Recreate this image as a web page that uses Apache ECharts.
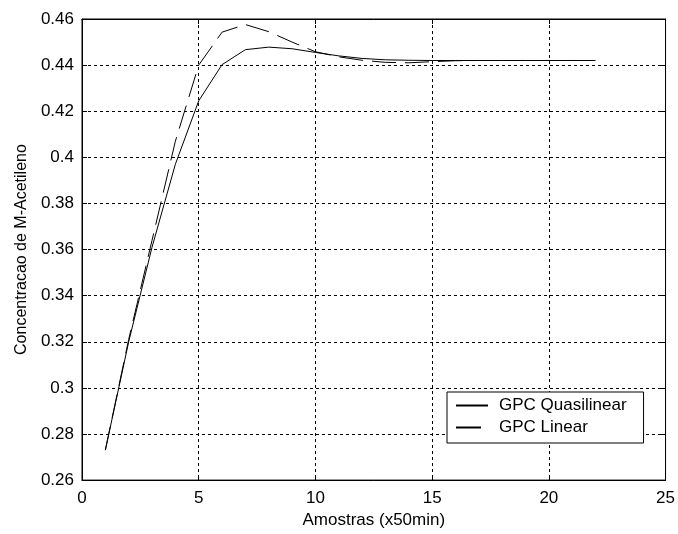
<!DOCTYPE html>
<html>
<head>
<meta charset="utf-8">
<script src="https://cdn.jsdelivr.net/npm/echarts@6/dist/echarts.min.js"></script>
<style>
html,body{margin:0;padding:0;background:#fff;}
#chart{width:678px;height:534px;}
</style>
</head>
<body>
<div id="chart"></div>
<script>
// Data
const samples = [1,2,3,4,5,6,7,8,9,10,11,12,13,14,15,16,17,18,19,20,21,22];
const gpcQuasilinear = [0.273,0.320,0.361,0.397,0.4245,0.4402,0.4467,0.4478,0.4471,0.4455,0.4440,0.4429,0.4423,0.4421,0.4420,0.4420,0.4420,0.4420,0.4420,0.4420,0.4420,0.4420];
const gpcLinear      = [0.273,0.321,0.364,0.407,0.4400,0.4543,0.4576,0.4545,0.4500,0.4458,0.4436,0.4421,0.4412,0.4410,0.4415,0.4419,0.4420,0.4420,0.4420,0.4420,0.4420,0.4420];
const xTicks = [0,5,10,15,20,25];
const yTicks = [0.26,0.28,0.30,0.32,0.34,0.36,0.38,0.40,0.42,0.44,0.46];
const seriesNames = ['GPC Quasilinear','GPC Linear'];
const xTitle = 'Amostras (x50min)';
const yTitle = 'Concentracao de M-Acetileno';

const FONT = '"Liberation Sans", Arial, sans-serif';
const chart = echarts.init(document.getElementById('chart'), null, {renderer:'canvas'});

const gridLine = {show:true, lineStyle:{color:'#000', width:1, type:[3,3]}};
const baseX = {
  type:'value', min:xTicks[0], max:xTicks[xTicks.length-1], interval:xTicks[1]-xTicks[0]
};
const baseY = {
  type:'value', min:yTicks[0], max:yTicks[yTicks.length-1], interval:0.02
};

chart.setOption({
  animation:false,
  backgroundColor:'#fff',
  textStyle:{fontFamily:FONT},
  grid:{left:82, top:19, width:586, height:464, show:true, borderColor:'#000', borderWidth:1, backgroundColor:'transparent'},
  legend:{
    orient:'vertical', left:447, top:392,
    padding:[5,17,7,8], itemGap:5,
    itemWidth:32, itemHeight:17,
    backgroundColor:'#fff', borderColor:'#000', borderWidth:1, borderRadius:0,
    itemStyle:{opacity:0},
    textStyle:{fontFamily:FONT, fontSize:17, color:'#000', lineHeight:17, padding:[0,0,0,6]},
    data:[
      {name:seriesNames[0]},
      {name:seriesNames[1], lineStyle:{type:[25,100]}}
    ]
  },
  xAxis:[
    Object.assign({}, baseX, {
      position:'bottom',
      name:xTitle, nameLocation:'middle', nameGap:27,
      nameTextStyle:{fontFamily:FONT, fontSize:17, color:'#000'},
      axisLine:{show:true, onZero:false, lineStyle:{color:'#000', width:1}},
      axisTick:{show:true, inside:true, length:5, lineStyle:{color:'#000'}},
      axisLabel:{show:true, margin:10, fontFamily:FONT, fontSize:17, color:'#000',
        formatter:v=>String(v)},
      splitLine:gridLine
    }),
    Object.assign({}, baseX, {
      position:'top',
      axisLine:{show:true, onZero:false, lineStyle:{color:'#000', width:1}},
      axisTick:{show:true, inside:true, length:5, lineStyle:{color:'#000'}},
      axisLabel:{show:false}, splitLine:{show:false}
    })
  ],
  yAxis:[
    Object.assign({}, baseY, {
      position:'left',
      name:yTitle, nameLocation:'middle', nameGap:50, nameRotate:90,
      nameTextStyle:{fontFamily:FONT, fontSize:16, color:'#000'},
      axisLine:{show:true, onZero:false, lineStyle:{color:'#000', width:1}},
      axisTick:{show:true, inside:true, length:5, lineStyle:{color:'#000'}},
      axisLabel:{show:true, margin:8, fontFamily:FONT, fontSize:17, color:'#000',
        formatter:v=>String(+v.toFixed(2))},
      splitLine:gridLine
    }),
    Object.assign({}, baseY, {
      position:'right',
      axisLine:{show:true, onZero:false, lineStyle:{color:'#000', width:1}},
      axisTick:{show:true, inside:true, length:5, lineStyle:{color:'#000'}},
      axisLabel:{show:false}, splitLine:{show:false}
    })
  ],
  series:[
    {
      name:seriesNames[0], type:'line', xAxisIndex:0, yAxisIndex:0,
      data:samples.map((x,i)=>[x,gpcQuasilinear[i]]),
      showSymbol:false, symbol:'none', smooth:false,
      lineStyle:{color:'#000', width:1, type:'solid'},
      itemStyle:{color:'#000'}
    },
    {
      name:seriesNames[1], type:'line', xAxisIndex:0, yAxisIndex:0,
      data:samples.map((x,i)=>[x,gpcLinear[i]]),
      showSymbol:false, symbol:'none', smooth:false,
      lineStyle:{color:'#000', width:1, type:[24,9]},
      itemStyle:{color:'#000'}
    }
  ]
});
</script>
</body>
</html>
